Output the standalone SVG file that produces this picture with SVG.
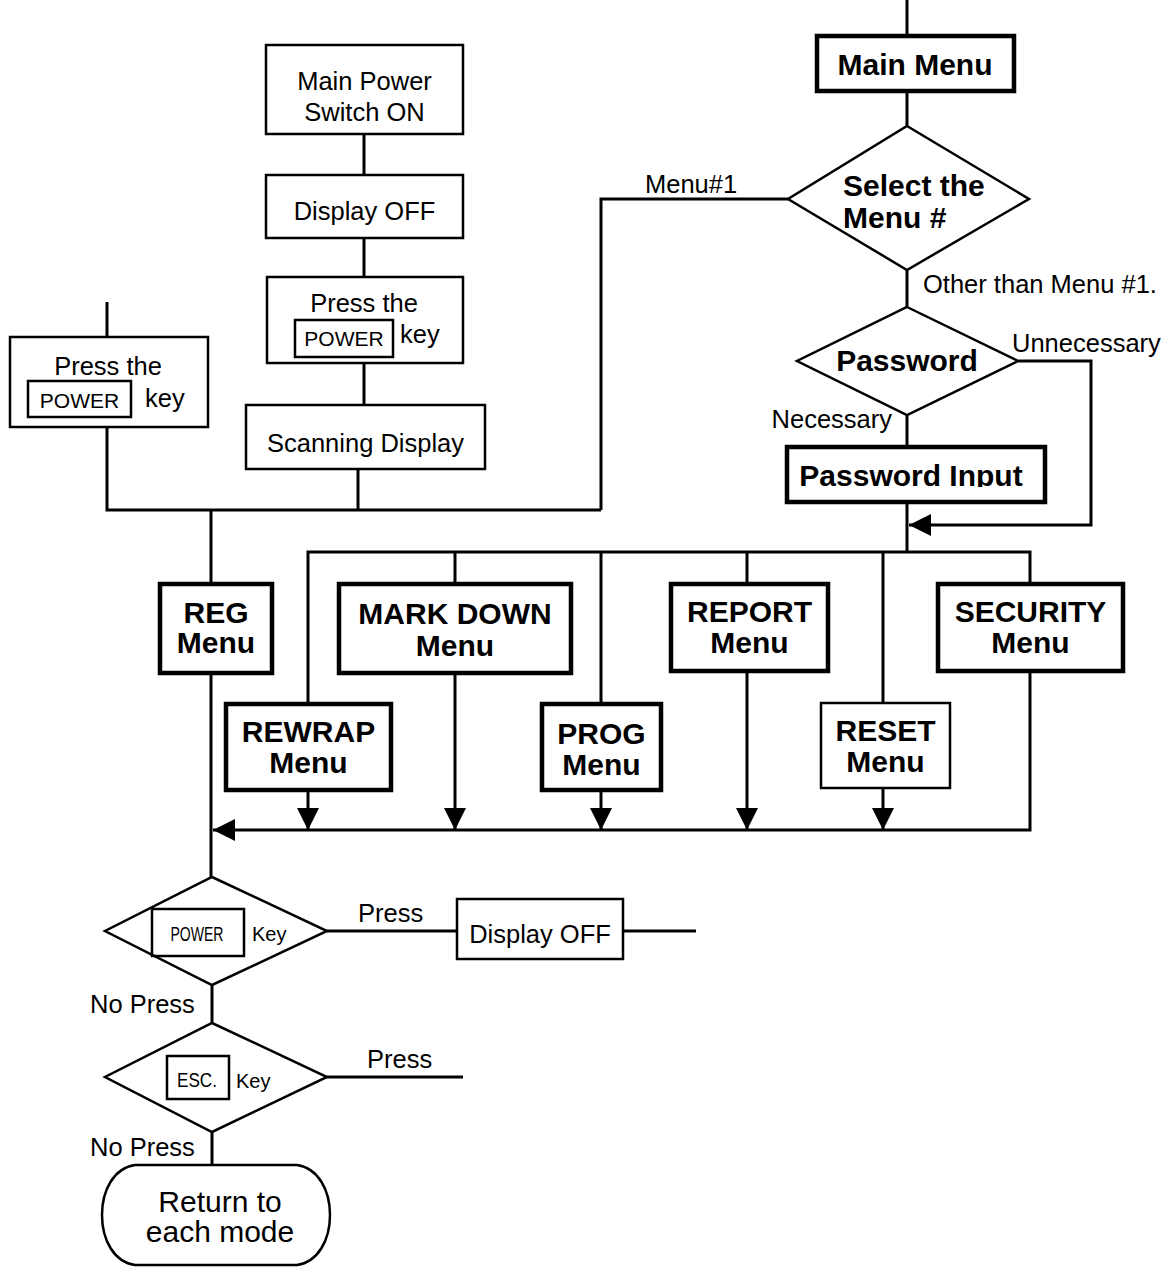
<svg xmlns="http://www.w3.org/2000/svg" width="1172" height="1267" viewBox="0 0 1172 1267">
<style>
text{font-family:"Liberation Sans",Arial,sans-serif;fill:#000}
.t{font-size:25.5px}
.b{font-size:30px;font-weight:bold}
.k{font-size:21px}
.m{text-anchor:middle}
.box{fill:#fff;stroke:#000;stroke-width:2.5}
.thick{fill:#fff;stroke:#000;stroke-width:4.5}
.keybox{fill:none;stroke:#000;stroke-width:2.5}
.dia{fill:#fff;stroke:#000;stroke-width:2.5}
.ln{fill:none;stroke:#000;stroke-width:3}
</style>
<defs>
<marker id="arr" viewBox="0 0 22 22" refX="22" refY="11" markerWidth="22" markerHeight="22" markerUnits="userSpaceOnUse" orient="auto">
<path d="M0,0 L22,11 L0,22 Z" fill="#000"/>
</marker>
<clipPath id="pwclip"><rect x="787" y="447" width="258" height="40"/></clipPath>
</defs>

<g id="connectors">
<path class="ln" d="M907,0 V36"/>
<path class="ln" d="M907,91 V126"/>
<path class="ln" d="M788,199 H601 V510"/>
<path class="ln" d="M907,270 V307"/>
<path class="ln" d="M907,415 V447"/>
<path class="ln" d="M1018,361 H1091 V525 H909" marker-end="url(#arr)"/>
<path class="ln" d="M907,502 V552"/>
<path class="ln" d="M308,704 V552 H1030 V584"/>
<path class="ln" d="M455,552 V584"/>
<path class="ln" d="M601,552 V704"/>
<path class="ln" d="M747,552 V584"/>
<path class="ln" d="M883,552 V703"/>
<path class="ln" d="M364,134 V175"/>
<path class="ln" d="M364,238 V277"/>
<path class="ln" d="M364,363 V405"/>
<path class="ln" d="M358,469 V510"/>
<path class="ln" d="M107,302 V337"/>
<path class="ln" d="M107,427 V510 H601"/>
<path class="ln" d="M211,510 V584"/>
<path class="ln" d="M211,673 V877"/>
<path class="ln" d="M308,790 V830" marker-end="url(#arr)"/>
<path class="ln" d="M455,673 V830" marker-end="url(#arr)"/>
<path class="ln" d="M601,790 V830" marker-end="url(#arr)"/>
<path class="ln" d="M747,671 V830" marker-end="url(#arr)"/>
<path class="ln" d="M883,788 V830" marker-end="url(#arr)"/>
<path class="ln" d="M1030,671 V830 H213" marker-end="url(#arr)"/>
<path class="ln" d="M327,931 H457"/>
<path class="ln" d="M623,931 H696"/>
<path class="ln" d="M212,985 V1023"/>
<path class="ln" d="M327,1077 H463"/>
<path class="ln" d="M212,1132 V1165"/>
<text class="t" x="645" y="193">Menu#1</text>
<text class="t" x="923" y="293">Other than Menu #1.</text>
<text class="t" x="1012" y="352">Unnecessary</text>
<text class="t" x="892" y="428" text-anchor="end">Necessary</text>
<text class="t" x="358" y="922">Press</text>
<text class="t" x="90" y="1013">No Press</text>
<text class="t" x="367" y="1068">Press</text>
<text class="t" x="90" y="1156">No Press</text>
</g>

<g id="main-power">
<rect class="box" x="266" y="45" width="197" height="89"/>
<text class="t m" x="364.5" y="90">Main Power</text>
<text class="t m" x="364.5" y="121">Switch ON</text>
</g>
<g id="display-off-1">
<rect class="box" x="266" y="175" width="197" height="63"/>
<text class="t m" x="364.5" y="220">Display OFF</text>
</g>
<g id="press-power-2">
<rect class="box" x="267" y="277" width="196" height="86"/>
<text class="t m" x="364" y="312">Press the</text>
<rect class="keybox" x="295" y="320" width="98" height="37"/>
<text class="k m" x="344" y="346">POWER</text>
<text class="t" x="400" y="343">key</text>
</g>
<g id="scanning-display">
<rect class="box" x="246" y="405" width="239" height="64"/>
<text class="t m" x="365.5" y="452">Scanning Display</text>
</g>
<g id="press-power-1">
<rect class="box" x="10" y="337" width="198" height="90"/>
<text class="t m" x="108" y="375">Press the</text>
<rect class="keybox" x="28" y="381" width="103" height="36"/>
<text class="k m" x="79.5" y="408">POWER</text>
<text class="t" x="145" y="407">key</text>
</g>

<g id="main-menu">
<rect class="thick" x="817" y="36" width="197" height="55"/>
<text class="b m" x="915" y="75">Main Menu</text>
</g>
<g id="select-menu">
<polygon class="dia" points="907,126 1029,199 907,270 788,199"/>
<text class="b" x="843" y="196">Select the</text>
<text class="b" x="843" y="228">Menu #</text>
</g>
<g id="password">
<polygon class="dia" points="907,307 1018,361 907,415 797,361"/>
<text class="b m" x="907" y="371">Password</text>
</g>
<g id="password-input">
<rect class="thick" x="787" y="447" width="258" height="55"/>
<text class="b m" x="911" y="486" clip-path="url(#pwclip)">Password Input</text>
</g>

<g id="reg-menu">
<rect class="thick" x="160" y="584" width="112" height="89"/>
<text class="b m" x="216" y="623">REG</text>
<text class="b m" x="216" y="653">Menu</text>
</g>
<g id="markdown-menu">
<rect class="thick" x="339" y="584" width="232" height="89"/>
<text class="b m" x="455" y="624">MARK DOWN</text>
<text class="b m" x="455" y="656">Menu</text>
</g>
<g id="report-menu">
<rect class="thick" x="671" y="584" width="157" height="87"/>
<text class="b m" x="749.5" y="622">REPORT</text>
<text class="b m" x="749.5" y="653">Menu</text>
</g>
<g id="security-menu">
<rect class="thick" x="938" y="584" width="185" height="87"/>
<text class="b m" x="1030.5" y="622">SECURITY</text>
<text class="b m" x="1030.5" y="653">Menu</text>
</g>
<g id="rewrap-menu">
<rect class="thick" x="226" y="704" width="165" height="86"/>
<text class="b m" x="308.5" y="742">REWRAP</text>
<text class="b m" x="308.5" y="773">Menu</text>
</g>
<g id="prog-menu">
<rect class="thick" x="542" y="704" width="119" height="86"/>
<text class="b m" x="601.5" y="744">PROG</text>
<text class="b m" x="601.5" y="775">Menu</text>
</g>
<g id="reset-menu">
<rect class="box" x="821" y="703" width="129" height="85"/>
<text class="b m" x="885.5" y="741">RESET</text>
<text class="b m" x="885.5" y="772">Menu</text>
</g>

<g id="power-key-decision">
<polygon class="dia" points="212,877 327,931 212,985 105,931"/>
<rect class="keybox" x="152" y="909" width="92" height="47"/>
<text class="k m" x="197" y="941" textLength="53" lengthAdjust="spacingAndGlyphs">POWER</text>
<text x="252" y="941" style="font-size:20px">Key</text>
</g>
<g id="display-off-2">
<rect class="box" x="457" y="899" width="166" height="60"/>
<text class="t m" x="540" y="943">Display OFF</text>
</g>
<g id="esc-key-decision">
<polygon class="dia" points="212,1023 327,1077 212,1132 105,1077"/>
<rect class="keybox" x="167" y="1056" width="62" height="43"/>
<text class="k m" x="197" y="1087" textLength="40" lengthAdjust="spacingAndGlyphs">ESC.</text>
<text x="236" y="1088" style="font-size:20px">Key</text>
</g>
<g id="return-mode">
<path class="box" d="M135,1165 H297 C318,1168 330,1190 330,1215 C330,1240 318,1262 297,1265 H135 C114,1262 102,1240 102,1215 C102,1190 114,1168 135,1165 Z"/>
<text class="m" x="220" y="1212" style="font-size:30px">Return to</text>
<text class="m" x="220" y="1242" style="font-size:30px">each mode</text>
</g>
</svg>
